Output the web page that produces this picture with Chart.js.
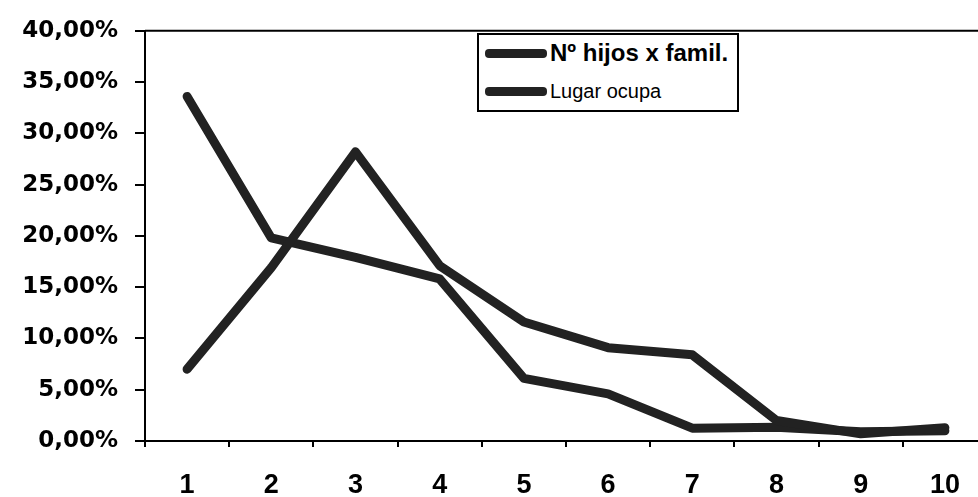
<!DOCTYPE html>
<html>
<head>
<meta charset="utf-8">
<script src="https://cdn.jsdelivr.net/npm/chart.js@4/dist/chart.umd.min.js"></script>
<style>
    body { margin: 0; background: #fff; overflow: hidden; }
    #wrap { position: relative; width: 978px; height: 497px; overflow: hidden; }
    #chart { position: absolute; left: 0; top: 0; }
    #legend {
        position: absolute; left: 477px; top: 33px; width: 258px; height: 75px;
        border: 2px solid #000; background: #fff; font-family: "Liberation Sans", Arial, sans-serif;
    }
    .item { position: absolute; left: 6px; display: flex; align-items: center; color: #000; }
    .swatch { width: 62px; height: 9px; border-radius: 4px; background: #222; margin-right: 3px; }
</style>
</head>
<body>
<div id="wrap">
    <canvas id="chart" width="990" height="497"></canvas>
    <div id="legend"></div>
</div>
<script>
'use strict';

let categories = ['1', '2', '3', '4', '5', '6', '7', '8', '9', '10'];
let hijosFamilia = [7.0, 16.9, 28.2, 17.1, 11.6, 9.1, 8.4, 2.0, 0.7, 1.3];
let lugarOcupa = [33.6, 19.8, 17.9, 15.8, 6.1, 4.6, 1.25, 1.35, 0.9, 1.0];
let seriesNames = ['N\u00ba hijos x famil.', 'Lugar ocupa'];
let yMin = 0;
let yMax = 40;
let yStep = 5;

const lineColor = '#222';

// legend as html, the two entries use different fonts
let legendEl = document.getElementById('legend');
let legendFonts = ['bold 24px "Liberation Sans", Arial', '20px "Liberation Sans", Arial'];
let legendTops = [4, 45];
seriesNames.forEach((name, i) => {
    let itemEl = document.createElement('div');
    itemEl.className = 'item';
    itemEl.style.top = legendTops[i] + 'px';
    itemEl.style.font = legendFonts[i];
    let swatchEl = document.createElement('span');
    swatchEl.className = 'swatch';
    let textEl = document.createElement('span');
    textEl.textContent = name;
    itemEl.appendChild(swatchEl);
    itemEl.appendChild(textEl);
    legendEl.appendChild(itemEl);
});

// top border of the plot area
const topBorder = {
    id: 'topBorder',
    afterDraw(chart) {
        const { ctx, chartArea } = chart;
        ctx.save();
        ctx.strokeStyle = '#000';
        ctx.lineWidth = 2;
        ctx.beginPath();
        ctx.moveTo(chartArea.left, chartArea.top);
        ctx.lineTo(chartArea.right + 10, chartArea.top);
        ctx.stroke();
        ctx.restore();
    }
};

const canvasEl = document.getElementById('chart');

new Chart(canvasEl, {
    type: 'line',
    data: {
        labels: categories,
        datasets: [{
            label: seriesNames[0],
            data: hijosFamilia,
            borderColor: lineColor,
            borderWidth: 9,
            pointRadius: 0,
            tension: 0,
            borderJoinStyle: 'round',
            borderCapStyle: 'round'
        }, {
            label: seriesNames[1],
            data: lugarOcupa,
            borderColor: lineColor,
            borderWidth: 9,
            pointRadius: 0,
            tension: 0,
            borderJoinStyle: 'round',
            borderCapStyle: 'round'
        }]
    },
    options: {
        responsive: false,
        animation: false,
        devicePixelRatio: 1,
        layout: { padding: { top: 24, right: 3, left: 0, bottom: 0 } },
        plugins: {
            legend: { display: false },
            tooltip: { enabled: false }
        },
        scales: {
            x: {
                offset: true,
                grid: { offset: true, drawOnChartArea: false, tickLength: 6, color: '#000', lineWidth: 2 },
                border: { color: '#000', width: 2 },
                ticks: {
                    color: '#000',
                    padding: 22,
                    maxRotation: 0,
                    font: { family: '"Liberation Sans", Arial', size: 27, weight: 'bold' }
                },
                afterFit(scale) { scale.height = 56; }
            },
            y: {
                min: yMin,
                max: yMax,
                grid: { drawOnChartArea: false, tickLength: 10, color: '#000', lineWidth: 2 },
                border: { color: '#000', width: 2 },
                ticks: {
                    stepSize: yStep,
                    color: '#000',
                    padding: 17,
                    font: { family: '"DejaVu Sans"', size: 23, weight: 'bold' },
                    callback: v => v.toFixed(2).replace('.', ',') + '%'
                },
                afterFit(scale) { scale.width = 145; }
            }
        }
    },
    plugins: [topBorder]
});
</script>
</body>
</html>
